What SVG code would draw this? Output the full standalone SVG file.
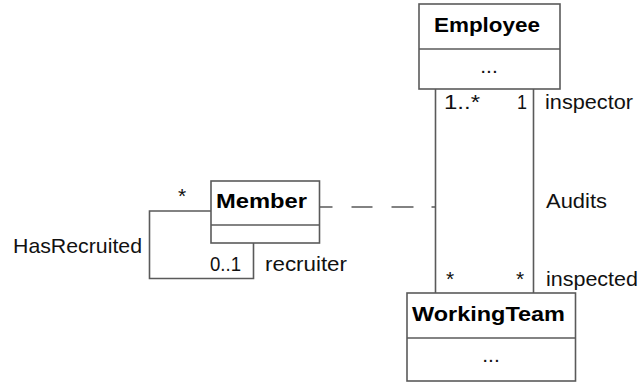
<svg xmlns="http://www.w3.org/2000/svg" width="639" height="383" viewBox="0 0 639 383">
<style>
.box{fill:#fff;stroke:#5a5a5a;stroke-width:1.6}
.ln{fill:none;stroke:#5a5a5a;stroke-width:1.6}
.dash{fill:none;stroke:#5a5a5a;stroke-width:1.6;stroke-dasharray:13 19 21 19 22 18 6}
.t{font-family:"Liberation Sans",Arial,sans-serif;font-size:21px;fill:#111}
.b{font-family:"Liberation Sans",Arial,sans-serif;font-size:21px;font-weight:bold;fill:#000}
</style>
<rect width="639" height="383" fill="#fff"/>
<g id="connectors">
<path class="ln" d="M435.5 89 V293 M533.5 89 V293"/>
<path class="ln" d="M211 211 H149.5 V278.5 H253.5 V243"/>
<path class="dash" d="M319.5 207 H435.5"/>
<text class="t" x="444" y="109" textLength="36" lengthAdjust="spacingAndGlyphs">1..*</text>
<text class="t" x="517" y="109" textLength="10" lengthAdjust="spacingAndGlyphs">1</text>
<text class="t" x="545" y="109" textLength="88" lengthAdjust="spacingAndGlyphs">inspector</text>
<text class="t" x="546" y="208" textLength="61" lengthAdjust="spacingAndGlyphs">Audits</text>
<text class="t" x="446" y="286">*</text>
<text class="t" x="516" y="286">*</text>
<text class="t" x="546" y="286" textLength="92" lengthAdjust="spacingAndGlyphs">inspected</text>
<text class="t" x="178" y="203">*</text>
<text class="t" x="210" y="271" textLength="31" lengthAdjust="spacingAndGlyphs">0..1</text>
<text class="t" x="265" y="271" textLength="82" lengthAdjust="spacingAndGlyphs">recruiter</text>
<text class="t" x="13" y="253" textLength="129" lengthAdjust="spacingAndGlyphs">HasRecruited</text>
</g>
<g id="Employee">
<rect class="box" x="419" y="4" width="141" height="85"/>
<line class="ln" x1="419" y1="49" x2="560" y2="49"/>
<text class="b" x="434" y="32" textLength="106" lengthAdjust="spacingAndGlyphs">Employee</text>
<text class="t" x="489" y="73" text-anchor="middle">...</text>
</g>
<g id="Member">
<rect class="box" x="211" y="181" width="108.5" height="62"/>
<line class="ln" x1="211" y1="225" x2="319.5" y2="225"/>
<text class="b" x="216" y="208" textLength="91" lengthAdjust="spacingAndGlyphs">Member</text>
</g>
<g id="WorkingTeam">
<rect class="box" x="407" y="293" width="168.5" height="88"/>
<line class="ln" x1="407" y1="338" x2="575.5" y2="338"/>
<text class="b" x="412" y="321" textLength="153" lengthAdjust="spacingAndGlyphs">WorkingTeam</text>
<text class="t" x="491" y="362" text-anchor="middle">...</text>
</g>
</svg>
